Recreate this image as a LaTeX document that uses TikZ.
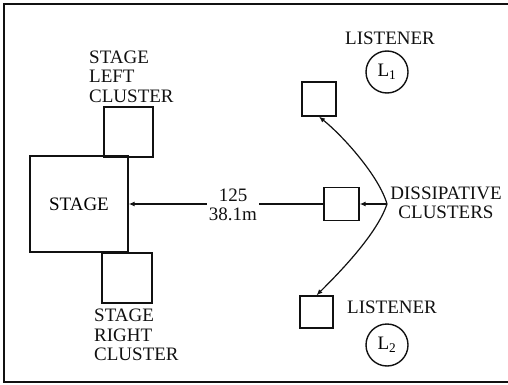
\documentclass[tikz,border=0pt]{standalone}
\usepackage{fontspec}
\setmainfont{Liberation Serif}
\usetikzlibrary{arrows.meta}
\definecolor{ink}{HTML}{111111}
\tikzset{
  clbox/.style={
    rectangle, draw=ink, line width=1.4pt, inner sep=0pt
  },
  lcirc/.style={
    circle, draw=ink, line width=1.4pt, minimum size=42pt, inner sep=0pt
  },
  lbl/.style={text=ink, inner sep=0pt},
  conn/.style={draw=ink, line width=1.2pt},
  conn-tip/.style={draw=ink, line width=1.2pt, -{Latex[length=6pt, width=5pt]}}
}

\begin{document}
\begin{tikzpicture}[x=1pt, y=-1pt, font=\fontsize{19}{19.5}\selectfont]
  \useasboundingbox (0,0) rectangle (508,385);

  % ---- Frame (open on the right) --------------------------------------------
  \draw[ink, line width=1.5pt] (508,4) -- (4,4) -- (4,382) -- (508,382);

  % ---- Stage and its clusters -----------------------------------------------
  \node[clbox, minimum width=98pt, minimum height=96pt] (stage) at (79,204) {STAGE};
  \node[clbox, minimum width=49pt, minimum height=50pt] (slc) at (128.5,132) {};
  \node[clbox, minimum width=50pt, minimum height=50pt] (src) at (127,278) {};
  \node[lbl, anchor=west, align=left] (slc-lbl) at (89,76.5) {STAGE\\LEFT\\CLUSTER};
  \node[lbl, anchor=west, align=left] (src-lbl) at (94,335) {STAGE\\RIGHT\\CLUSTER};

  % ---- Dissipative clusters -------------------------------------------------
  \node[clbox, minimum width=34pt, minimum height=34pt] (dtop) at (319,99) {};
  \node[clbox, minimum width=35pt, minimum height=33pt] (dmid) at (341.5,204) {};
  \node[clbox, minimum width=33pt, minimum height=32pt] (dbot) at (316.5,312) {};
  \coordinate (hub) at (387,204);
  \node[lbl, align=center] (diss) at (446,203) {DISSIPATIVE\\CLUSTERS};

  % ---- Listeners ------------------------------------------------------------
  \node[lbl] (l1-lbl) at (390,38) {LISTENER};
  \node[lcirc] (l1) at (387,72) {L\textsubscript{1}};
  \node[lbl] (l2-lbl) at (392,307) {LISTENER};
  \node[lcirc] (l2) at (387,345) {L\textsubscript{2}};

  % ---- Distance from the stage ----------------------------------------------
  \node[lbl, inner sep=2pt, align=center] (dist) at (233,205) {125\\38.1m};
  \draw[conn] (dmid.west) -- (dist.east |- dmid.west);
  \draw[conn-tip] (dist.west |- stage.east) -- (stage.east);

  % ---- Pointers to the dissipative clusters ---------------------------------
  \draw[conn-tip] (hub) .. controls (379,176) and (343,136) .. (dtop.south);
  \draw[conn-tip] (hub) .. controls (377,234) and (340,272) .. (dbot.north);
  \draw[conn-tip] (hub) -- (dmid.east);

\end{tikzpicture}
\end{document}
